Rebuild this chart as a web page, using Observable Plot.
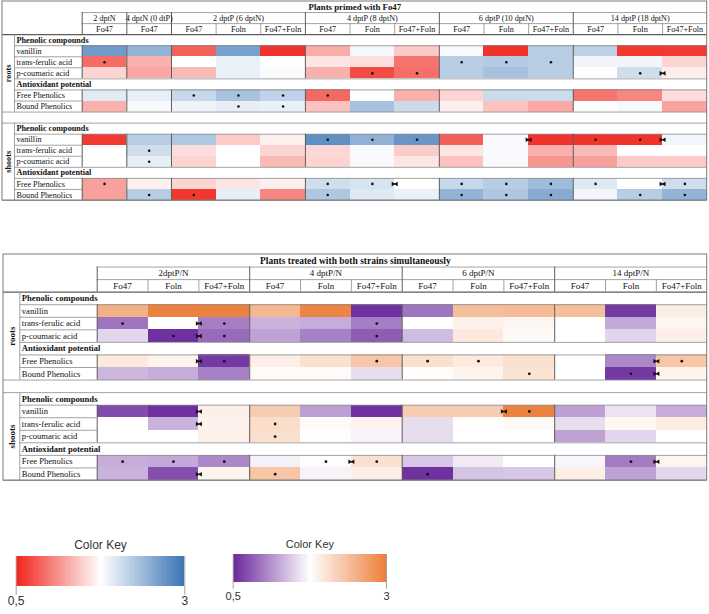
<!DOCTYPE html>
<html>
<head>
<meta charset="utf-8">
<script src="https://cdn.jsdelivr.net/npm/d3@7"></script>
<script src="https://cdn.jsdelivr.net/npm/@observablehq/plot@0.6"></script>
<style>
  body { margin: 0; background: #fff; }
  #page { position: relative; width: 709px; height: 614px; overflow: hidden; background: #fff; }
  #page > div { position: absolute; }
</style>
</head>
<body>
<div id="page"></div>
<script>
// ---- row structure shared by both tables ----
const tissues = ["roots", "shoots"];
const sections = ["Phenolic compounds", "Antioxidant potential"];
const compounds = ["vanillin", "trans-ferulic acid", "p-coumaric acid"];
const antioxidants = ["Free Phenolics", "Bound Phenolics"];

// ---- table 1: plants primed with Fo47 ----
const primedTitle = "Plants primed with Fo47";
const primedGroups = ["2 dptN", "4 dptN (0 dtP)", "2 dptP (6 dptN)", "4 dptP (8 dptN)", "6 dptP (10 dptN)", "14 dptP (18 dptN)"];
const primedGroupSizes = [1, 1, 3, 3, 3, 3];
const primedColumns = ["Fo47", "Fo47", "Fo47", "Foln", "Fo47+Foln", "Fo47", "Foln", "Fo47+Foln",
                       "Fo47", "Foln", "Fo47+Foln", "Fo47", "Foln", "Fo47+Foln"];
// rows: vanillin, trans-ferulic, p-coumaric, free phenolics, bound phenolics
const primedRoots = [
  [2.65, 2.42, 0.84, 2.6, 0.58, 1.27, 1.82, 1.44, 1.8, 0.57, 2.2, 2.17, 0.6, 0.62],
  [0.9, 1.3, 1.75, 1.88, 1.77, 1.6, 1.56, 0.95, 2.2, 2.22, 2.2, 1.84, 1.84, 1.5],
  [1.5, 1.25, 1.35, 1.88, 1.79, 1.3, 0.72, 0.92, 2.2, 2.3, 2.2, 1.75, 2.05, 1.65],
  [1.93, 1.9, 2.1, 2.3, 2.15, 0.88, 1.76, 1.3, 1.5, 2.07, 2.07, 0.95, 1.05, 1.55],
  [1.3, 1.8, 1.85, 1.9, 1.88, 1.4, 2.3, 2.07, 1.66, 1.4, 1.25, 1.76, 1.8, 1.22]
];
const primedShoots = [
  [0.62, 2.2, 2.25, 1.45, 1.66, 2.75, 2.45, 2.7, 0.82, 1.8, 0.58, 0.58, 0.58, 1.83],
  [1.75, 2.05, 1.55, 1.75, 1.5, 1.52, 1.8, 1.45, 1.6, 1.8, 1.3, 1.35, 1.75, 1.75],
  [1.75, 1.9, 1.5, 1.75, 1.35, 1.5, 1.8, 1.6, 1.4, 1.8, 1.15, 1.2, 1.45, 1.45],
  [1.2, 1.65, 1.5, 1.6, 1.65, 2.05, 2.0, 1.75, 2.1, 2.2, 2.35, 1.95, 1.75, 2.05],
  [1.2, 2.2, 0.6, 1.9, 1.05, 2.25, 1.95, 1.88, 2.42, 2.25, 2.5, 1.83, 2.2, 2.42]
];
// significance dots (column indices per row)
const primedRootsStars = [[], [0, 8, 9, 10], [6, 7, 12], [2, 3, 4, 5], [3, 4]];
const primedShootsStars = [[5, 6, 7, 11, 12], [1], [1], [0, 5, 6, 8, 9, 10, 11, 13], [1, 2, 5, 8, 9, 10, 12, 13]];
// bowtie flags on the right edge of these columns
const primedRootsFlags = [[], [], [12], [], []];
const primedShootsFlags = [[9, 12], [], [], [6, 12], []];

// ---- table 2: plants treated with both strains simultaneously ----
const bothTitle = "Plants treated with both strains simultaneously";
const bothGroups = ["2dptP/N", "4 dptP/N", "6 dptP/N", "14 dptP/N"];
const bothGroupSizes = [3, 3, 3, 3];
const bothColumns = ["Fo47", "Foln", "Fo47+Foln", "Fo47", "Foln", "Fo47+Foln",
                     "Fo47", "Foln", "Fo47+Foln", "Fo47", "Foln", "Fo47+Foln"];
const bothRoots = [
  [2.5, 2.95, 2.95, 2.42, 2.92, 0.55, 0.95, 2.37, 2.4, 2.37, 0.6, 1.91],
  [0.95, 1.75, 1.0, 1.3, 1.27, 1.0, 1.75, 1.88, 1.85, 1.75, 1.25, 1.85],
  [1.51, 0.55, 0.89, 1.21, 1.02, 0.8, 1.36, 1.95, 1.8, 1.75, 1.5, 1.9],
  [1.95, 1.86, 0.6, 1.9, 2.05, 2.3, 2.05, 1.95, 2.05, 1.75, 1.06, 2.3],
  [1.33, 1.27, 1.02, 1.8, 1.8, 1.55, 1.78, 1.86, 2.02, 1.75, 0.6, 1.86]
];
const bothShoots = [
  [0.71, 0.55, 1.9, 2.23, 1.19, 0.55, 2.24, 2.24, 2.95, 1.2, 1.59, 1.27],
  [1.75, 1.3, 1.87, 2.08, 1.8, 1.87, 1.55, 1.76, 1.8, 1.55, 1.83, 1.93],
  [1.75, 1.75, 1.88, 2.05, 1.76, 1.68, 1.55, 1.75, 1.75, 1.21, 1.5, 1.75],
  [1.27, 1.25, 1.06, 1.67, 1.77, 2.05, 1.42, 1.63, 1.75, 1.7, 0.98, 1.85],
  [1.3, 0.72, 1.86, 2.3, 1.68, 1.9, 0.55, 1.4, 1.42, 1.9, 1.21, 1.52]
];
const bothRootsStars = [[], [0, 2, 5], [1, 2, 5], [2, 5, 6, 7, 11], [8, 10]];
const bothShootsStars = [[8], [3], [3], [0, 1, 2, 4, 5, 10], [3, 6]];
const bothRootsFlags = [[], [1], [1], [1, 10], [10]];
const bothShootsFlags = [[1, 7], [1], [], [4, 10], [1]];

// ---- colour keys ----
const keyTitle = "Color Key";
const keyDomain = [0.5, 3];
const keyTicks = [0.5, 3];
const keyTickLabels = ["0,5", "3"];

const redBlue = ["#f0261c", "#ffffff", "#3873b4"];
const purpleOrange = ["#69289b", "#ffffff", "#eb7d37"];

const colorScale = (palette) => ({
  type: "linear",
  domain: keyDomain,
  interpolate: d3.piecewise(d3.interpolateRgb, palette)
});

const page = document.getElementById("page");
function place(node, left, top) {
  const wrap = document.createElement("div");
  wrap.style.left = left + "px";
  wrap.style.top = top + "px";
  wrap.append(node);
  page.append(wrap);
}

function drawTable(spec) {
  const {title, groups, groupSizes, columns, values, stars, flags, palette, box, font} = spec;
  const n = columns.length;
  const colW = (box.right - box.dataLeft) / n;
  const xMin = -(box.dataLeft - box.left) / colW;
  const xLab = -(box.dataLeft - box.labelLeft) / colW;
  const rows = [...compounds, ...antioxidants];
  const rowY = (t, r) => 3 + 8 * t + (r < compounds.length ? 1 + r : 2 + r);

  const cells = [], starPts = [], flagPts = [], rowLabels = [], sectionLabels = [];
  tissues.forEach((tissue, t) => {
    sections.forEach((s, k) => sectionLabels.push({y: 3 + 8 * t + 4 * k, text: s}));
    rows.forEach((name, r) => {
      const y = rowY(t, r);
      rowLabels.push({y, text: name});
      values[t][r].forEach((v, c) => cells.push({c, y, v}));
      stars[t][r].forEach((c) => starPts.push({c, y}));
      flags[t][r].forEach((c) => flagPts.push({c, y}));
    });
  });

  const starts = Array.from(d3.cumsum([0, ...groupSizes]));
  const groupHeads = groups.map((label, i) => ({label, x: (starts[i] + starts[i + 1]) / 2}));

  // table rules
  const hThin = [], hStrong = [], vThin = [], vStrong = [];
  hThin.push({y: 1, x1: 0, x2: n}, {y: 2, x1: 0, x2: n});
  hStrong.push({y: 3, x1: xMin, x2: n});
  tissues.forEach((_, t) => {
    const b = 3 + 8 * t;
    if (t > 0) hThin.push({y: b, x1: xMin, x2: n});
    [b + 1, b + 4, b + 5].forEach((y) => hThin.push({y, x1: xLab, x2: n}));
    [b + 2, b + 3, b + 6].forEach((y) => hThin.push({y, x1: xLab, x2: 0}));
    hThin.push({y: b + 7, x1: xMin, x2: n});
    vThin.push({x: xLab, y1: b, y2: b + 7});
  });
  const dataSpans = tissues.flatMap((_, t) => [[4 + 8 * t, 7 + 8 * t], [8 + 8 * t, 10 + 8 * t]]);
  starts.slice(0, -1).forEach((x) => {
    vStrong.push({x, y1: 1, y2: 3});
    dataSpans.forEach(([a, b]) => vStrong.push({x, y1: a, y2: b}));
  });
  d3.range(1, n).filter((x) => !starts.includes(x)).forEach((x) => vThin.push({x, y1: 2, y2: 3}));

  const ink = "#111";
  const line = "#8c8c8c";
  const dark = "#5e5e5e";

  return Plot.plot({
    width: 709,
    height: spec.height,
    margin: 0,
    x: {domain: [xMin, n], range: [box.left, box.right], axis: null},
    y: {domain: [0, 18], range: [box.top, box.bottom], axis: null},
    color: colorScale(palette),
    style: {fontFamily: "'Liberation Serif', 'DejaVu Serif', serif", background: "transparent"},
    marks: [
      Plot.rect(cells, {x1: "c", x2: (d) => d.c + 1, y1: "y", y2: (d) => d.y + 1, fill: "v", shapeRendering: "crispEdges"}),
      Plot.ruleY(hThin, {y: "y", x1: "x1", x2: "x2", stroke: line, strokeWidth: 0.8}),
      Plot.ruleY(hStrong, {y: "y", x1: "x1", x2: "x2", stroke: dark, strokeWidth: 1.2}),
      Plot.ruleX(vThin, {x: "x", y1: "y1", y2: "y2", stroke: line, strokeWidth: 0.8}),
      Plot.ruleX(vStrong, {x: "x", y1: "y1", y2: "y2", stroke: dark, strokeWidth: 1}),
      Plot.rect([0], {x1: xMin, x2: n, y1: 0, y2: 18, fill: "none", stroke: "#7a7a7a", strokeWidth: 1}),
      Plot.text([title], {x: (xMin + n) / 2, y: 0.5, text: (d) => d, fontWeight: "bold", fontSize: font.title, fill: ink}),
      Plot.text(groupHeads, {x: "x", y: 1.5, text: "label", fontSize: font.header, fill: ink}),
      Plot.text(columns, {x: (d, i) => i + 0.5, y: 2.5, text: (d) => d, fontSize: font.header, fill: ink}),
      Plot.text(sectionLabels, {x: xLab, y: (d) => d.y + 0.5, text: "text", textAnchor: "start", dx: 2, fontWeight: "bold", fontSize: font.label, fill: ink}),
      Plot.text(rowLabels, {x: xLab, y: (d) => d.y + 0.5, text: "text", textAnchor: "start", dx: 2, fontSize: font.label, fill: ink}),
      Plot.text(tissues, {x: (xMin + xLab) / 2, y: (d, i) => 6.5 + 8 * i, text: (d) => d, rotate: -90, fontWeight: "bold", fontSize: font.side, fill: ink}),
      Plot.dot(starPts, {x: (d) => d.c + 0.5, y: (d) => d.y + 0.5, r: font.star, fill: ink, stroke: "none"}),
      Plot.dot(flagPts, {x: (d) => d.c + 1, y: (d) => d.y + 0.5, symbol: "triangle", rotate: 90, r: 1.7, dx: -1.7, fill: ink, stroke: "none"}),
      Plot.dot(flagPts, {x: (d) => d.c + 1, y: (d) => d.y + 0.5, symbol: "triangle", rotate: -90, r: 1.7, dx: 1.7, fill: ink, stroke: "none"})
    ]
  });
}

function drawKey(palette, g) {
  const step = 0.025;
  const swatches = d3.range(0, 100).map((i) => keyDomain[0] + i * step);
  return Plot.plot({
    width: g.width,
    height: g.height,
    marginTop: g.barTop,
    marginBottom: g.height - g.barBottom,
    marginLeft: g.barLeft,
    marginRight: g.width - g.barRight,
    x: {domain: keyDomain, axis: null},
    color: colorScale(palette),
    style: {fontFamily: "'Liberation Sans', Arial, sans-serif", background: "transparent"},
    marks: [
      Plot.rect(swatches, {x1: (d) => d, x2: (d) => d + step, fill: (d) => d, shapeRendering: "crispEdges"}),
      Plot.ruleX(keyTicks, {x: (d) => d, stroke: "#a3a3a3", strokeWidth: 1, insetBottom: -g.tick}),
      Plot.text(keyTicks, {x: (d) => d, text: (d, i) => keyTickLabels[i], frameAnchor: "bottom", lineAnchor: "top", dy: g.labelDy, fontSize: g.font, fill: "#333"}),
      Plot.text([keyTitle], {x: d3.mean(keyDomain), text: (d) => d, frameAnchor: "top", lineAnchor: "middle", dy: g.titleDy, fontSize: g.font, fill: "#333"})
    ]
  });
}

place(drawTable({
  title: primedTitle, groups: primedGroups, groupSizes: primedGroupSizes, columns: primedColumns,
  values: [primedRoots, primedShoots],
  stars: [primedRootsStars, primedShootsStars],
  flags: [primedRootsFlags, primedShootsFlags],
  palette: redBlue,
  height: 203,
  box: {left: 2, labelLeft: 14, dataLeft: 81.7, right: 706.7, top: 1, bottom: 200},
  font: {title: 8.8, header: 8.2, label: 8.2, side: 8.2, star: 1.3}
}), 0, 0);

place(drawTable({
  title: bothTitle, groups: bothGroups, groupSizes: bothGroupSizes, columns: bothColumns,
  values: [bothRoots, bothShoots],
  stars: [bothRootsStars, bothShootsStars],
  flags: [bothRootsFlags, bothShootsFlags],
  palette: purpleOrange,
  height: 233,
  box: {left: 3, labelLeft: 19.3, dataLeft: 96.7, right: 706.7, top: 4, bottom: 230},
  font: {title: 9.5, header: 9, label: 8.6, side: 9, star: 1.4}
}), 0, 250);

place(drawKey(redBlue, {width: 200, height: 84, barTop: 25.7, barBottom: 55.7, barLeft: 15.7, barRight: 184.3, tick: 9, labelDy: 10, titleDy: -11, font: 12}), 0, 530);
place(drawKey(purpleOrange, {width: 190, height: 84, barTop: 24, barBottom: 51.7, barLeft: 12.7, barRight: 166, tick: 7, labelDy: 10, titleDy: -10, font: 11}), 220, 530);
</script>
</body>
</html>
